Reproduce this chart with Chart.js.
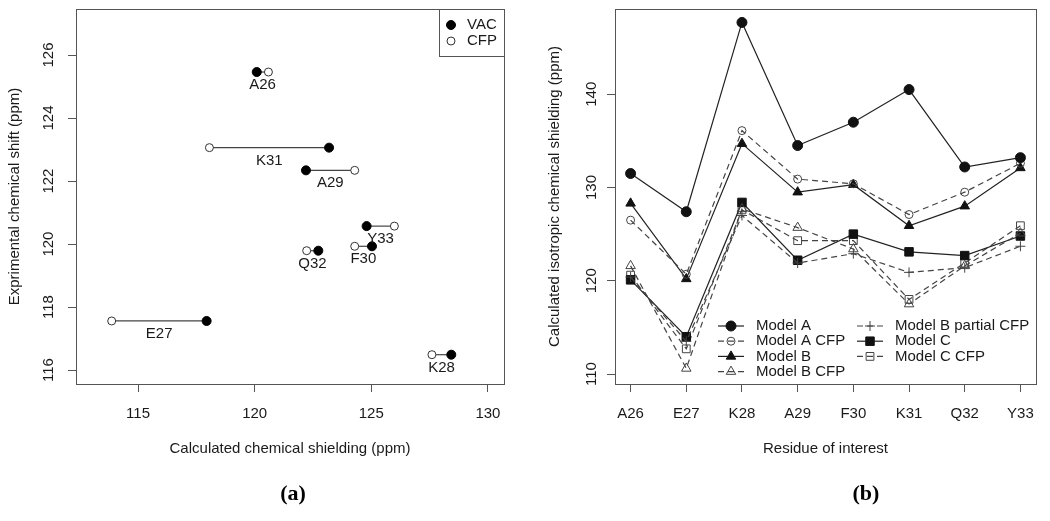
<!DOCTYPE html>
<html>
<head>
<meta charset="utf-8">
<script src="https://cdn.jsdelivr.net/npm/chart.js"></script>
<style>
  body { margin: 0; background: #fff; width: 1050px; height: 521px; position: relative; overflow: hidden; }
  #ca { position: absolute; left: 0; top: 0; }
  #cb { position: absolute; left: 525px; top: 0; }
  .cap { position: absolute; top: 480px; width: 60px; text-align: center;
         font: bold 22px "Liberation Serif", "Times New Roman", serif; color: #000; }
</style>
</head>
<body>
<canvas id="ca" width="525" height="521"></canvas>
<canvas id="cb" width="525" height="521"></canvas>
<div class="cap" style="left:263px">(a)</div>
<div class="cap" style="left:836px">(b)</div>
<script>
// residues (shared by both panels)
var residues = ["A26", "E27", "K28", "A29", "F30", "K31", "Q32", "Y33"];

// panel (a)
var expShift  = [125.46, 117.56, 116.49, 122.34, 119.93, 123.06, 119.79, 120.57];
var vacShield = [120.09, 117.94, 128.43, 122.20, 125.03, 123.19, 122.73, 124.80];
var cfpShield = [120.59, 113.87, 127.60, 124.29, 124.29, 118.06, 122.23, 125.99];
var aTicksX = [115, 120, 125, 130];
var aTicksY = [116, 118, 120, 122, 124, 126];

// panel (b)
var modelA        = [131.5, 127.4, 147.7, 134.5, 137.0, 140.5, 132.2, 133.2];
var modelACfp     = [126.5, 120.7, 136.1, 130.9, 130.4, 127.1, 129.5, 132.6];
var modelB        = [128.3, 120.2, 134.7, 129.5, 130.3, 125.9, 128.0, 132.1];
var modelBCfp     = [121.6, 110.6, 127.7, 125.7, 123.4, 117.5, 121.6, 125.1];
var modelBPartial = [120.4, 113.5, 127.0, 121.9, 122.9, 120.9, 121.4, 123.7];
var modelC        = [120.1, 114.0, 128.4, 122.2, 125.0, 123.1, 122.7, 124.8];
var modelCCfp     = [120.6, 112.7, 127.6, 124.3, 124.3, 118.0, 121.9, 125.9];
var bTicksY = [110, 120, 130, 140];

var FONT = '15px "Liberation Sans", Arial, sans-serif';
var INK = '#1a1a1a';
var LINE = '#555';

// box, rotated y tick labels and axis titles, R style
var framePlugin = {
  id: 'frame',
  afterDraw: function (chart, args, o) {
    var ctx = chart.ctx, a = chart.chartArea, ys = chart.scales.y;
    ctx.save();
    ctx.strokeStyle = LINE;
    ctx.lineWidth = 1;
    ctx.strokeRect(Math.round(a.left) + 0.5, Math.round(a.top) + 0.5,
                   Math.round(a.right - a.left), Math.round(a.bottom - a.top));
    ctx.fillStyle = INK;
    ctx.font = FONT;
    ctx.textAlign = 'center';
    ctx.textBaseline = 'middle';
    o.yTicks.forEach(function (v) {
      ctx.save();
      ctx.translate(o.yTickX, ys.getPixelForValue(v));
      ctx.rotate(-Math.PI / 2);
      ctx.fillText(String(v), 0, 0);
      ctx.restore();
    });
    ctx.save();
    ctx.translate(o.yTitleX, (a.top + a.bottom) / 2);
    ctx.rotate(-Math.PI / 2);
    ctx.fillText(o.yTitle, 0, 0);
    ctx.restore();
    ctx.fillText(o.xTitle, (a.left + a.right) / 2, o.xTitleY);
    ctx.restore();
  }
};

// legend drawn like R's legend(): line sample + symbol + text
function drawKey(ctx, ds, x0, len, y, tx, withLine) {
  if (withLine) {
    ctx.save();
    ctx.strokeStyle = ds.borderColor;
    ctx.lineWidth = ds.borderWidth;
    ctx.setLineDash(ds.borderDash || []);
    ctx.beginPath();
    ctx.moveTo(x0, y);
    ctx.lineTo(x0 + len, y);
    ctx.stroke();
    ctx.restore();
  }
  ctx.save();
  ctx.fillStyle = ds.pointBackgroundColor;
  ctx.strokeStyle = ds.pointBorderColor;
  ctx.lineWidth = ds.pointBorderWidth;
  Chart.helpers.drawPoint(ctx, {
    pointStyle: ds.pointStyle, radius: ds.pointRadius,
    borderWidth: ds.pointBorderWidth, rotation: 0
  }, x0 + len / 2, y);
  ctx.restore();
  ctx.fillStyle = INK;
  ctx.font = FONT;
  ctx.textAlign = 'left';
  ctx.textBaseline = 'middle';
  ctx.fillText(ds.label, tx, y);
}

function axisX(min, max, ticks, labelFn, h) {
  return {
    type: 'linear', min: min, max: max,
    afterBuildTicks: function (s) { s.ticks = ticks.map(function (v) { return { value: v }; }); },
    afterFit: function (s) { s.height = h; },
    grid: { display: true, drawOnChartArea: false, drawTicks: true, tickLength: 8, color: LINE },
    border: { display: false },
    ticks: { color: INK, padding: 13, maxRotation: 0, autoSkip: false,
             font: { family: '"Liberation Sans", Arial, sans-serif', size: 15 },
             callback: labelFn }
  };
}
function axisY(min, max, ticks, w) {
  return {
    type: 'linear', min: min, max: max,
    afterBuildTicks: function (s) { s.ticks = ticks.map(function (v) { return { value: v }; }); },
    afterFit: function (s) { s.width = w; },
    grid: { display: true, drawOnChartArea: false, drawTicks: true, tickLength: 8, color: LINE },
    border: { display: false },
    ticks: { display: false }
  };
}

// ---------- panel (a) ----------
var aSets = [
  { label: 'VAC', type: 'scatter', data: vacShield.map(function (v, i) { return { x: v, y: expShift[i] }; }),
    pointStyle: 'circle', pointRadius: 4.5, pointBackgroundColor: '#000', pointBorderColor: '#000', pointBorderWidth: 1 },
  { label: 'CFP', type: 'scatter', data: cfpShield.map(function (v, i) { return { x: v, y: expShift[i] }; }),
    pointStyle: 'circle', pointRadius: 4, pointBackgroundColor: '#fff', pointBorderColor: '#333', pointBorderWidth: 1 }
];
residues.forEach(function (r, i) {
  aSets.push({ label: r, type: 'line', showLine: true, pointRadius: 0, borderColor: '#444', borderWidth: 1.2,
    data: [{ x: vacShield[i], y: expShift[i] }, { x: cfpShield[i], y: expShift[i] }] });
});

new Chart(document.getElementById('ca'), {
  type: 'scatter',
  data: { datasets: aSets },
  options: {
    responsive: false, animation: false, events: [],
    layout: { padding: { left: 0, top: 9, right: 21, bottom: 0 } },
    scales: {
      x: axisX(112.34, 130.69, aTicksX, function (v) { return v; }, 137),
      y: axisY(115.56, 127.46, aTicksY, 76)
    },
    plugins: {
      legend: { display: false }, tooltip: { enabled: false },
      frame: { yTicks: aTicksY, yTickX: 49, yTitleX: 15,
               yTitle: 'Exprimental chemical shift (ppm)',
               xTitle: 'Calculated chemical shielding (ppm)', xTitleY: 449 }
    }
  },
  plugins: [framePlugin, {
    id: 'aLabels',
    afterDraw: function (chart) {
      var ctx = chart.ctx, xs = chart.scales.x, ys = chart.scales.y, a = chart.chartArea;
      ctx.save();
      ctx.fillStyle = INK; ctx.font = FONT; ctx.textAlign = 'center'; ctx.textBaseline = 'middle';
      residues.forEach(function (r, i) {
        var x = (xs.getPixelForValue(vacShield[i]) + xs.getPixelForValue(cfpShield[i])) / 2;
        ctx.fillText(r, x, ys.getPixelForValue(expShift[i]) + 13);
      });
      // legend box, top right
      ctx.strokeStyle = LINE; ctx.lineWidth = 1;
      ctx.strokeRect(Math.round(a.right - 65) + 0.5, Math.round(a.top) + 0.5, 65, 47);
      drawKey(ctx, chart.data.datasets[0], 451, 0, 25, 467, false);
      drawKey(ctx, chart.data.datasets[1], 451, 0, 41, 467, false);
      ctx.restore();
    }
  }]
});

// ---------- panel (b) ----------
function series(label, values, style, open, dashed, radius) {
  var col = open ? '#444' : '#111';
  return {
    label: label, type: 'line',
    data: values.map(function (v, i) { return { x: i + 1, y: v }; }),
    borderColor: dashed ? '#444' : '#222', borderWidth: 1.2, borderDash: dashed ? [6, 4] : [],
    pointStyle: style, pointRadius: radius, pointBorderWidth: 1,
    pointBackgroundColor: open ? 'rgba(255,255,255,0)' : col, pointBorderColor: col
  };
}
var bSets = [
  series('Model A', modelA, 'circle', false, false, 5),
  series('Model A CFP', modelACfp, 'circle', true, true, 4),
  series('Model B', modelB, 'triangle', false, false, 5.5),
  series('Model B CFP', modelBCfp, 'triangle', true, true, 5.5),
  series('Model B partial CFP', modelBPartial, 'cross', true, true, 5),
  series('Model C', modelC, 'rect', false, false, 6),
  series('Model C CFP', modelCCfp, 'rect', true, true, 5.5)
];

new Chart(document.getElementById('cb'), {
  type: 'line',
  data: { datasets: bSets },
  options: {
    responsive: false, animation: false, events: [],
    layout: { padding: { left: 0, top: 9, right: 14, bottom: 0 } },
    scales: {
      x: axisX(0.72, 8.28, residues.map(function (r, i) { return i + 1; }),
               function (v) { return residues[v - 1]; }, 137),
      y: axisY(108.93, 149.14, bTicksY, 90)
    },
    plugins: {
      legend: { display: false }, tooltip: { enabled: false },
      frame: { yTicks: bTicksY, yTickX: 67, yTitleX: 30,
               yTitle: 'Calculated isotropic chemical shielding (ppm)',
               xTitle: 'Residue of interest', xTitleY: 449 }
    }
  },
  plugins: [framePlugin, {
    id: 'bLegend',
    afterDraw: function (chart) {
      var ctx = chart.ctx, ds = chart.data.datasets;
      ctx.save();
      for (var i = 0; i < ds.length; i++) {
        var col = i < 4 ? 0 : 1, row = i < 4 ? i : i - 4;
        var x0 = col === 0 ? 193 : 332;
        drawKey(ctx, ds[i], x0, 26, 326 + row * 15.2, x0 + 38, true);
      }
      ctx.restore();
    }
  }]
});
</script>
</body>
</html>
